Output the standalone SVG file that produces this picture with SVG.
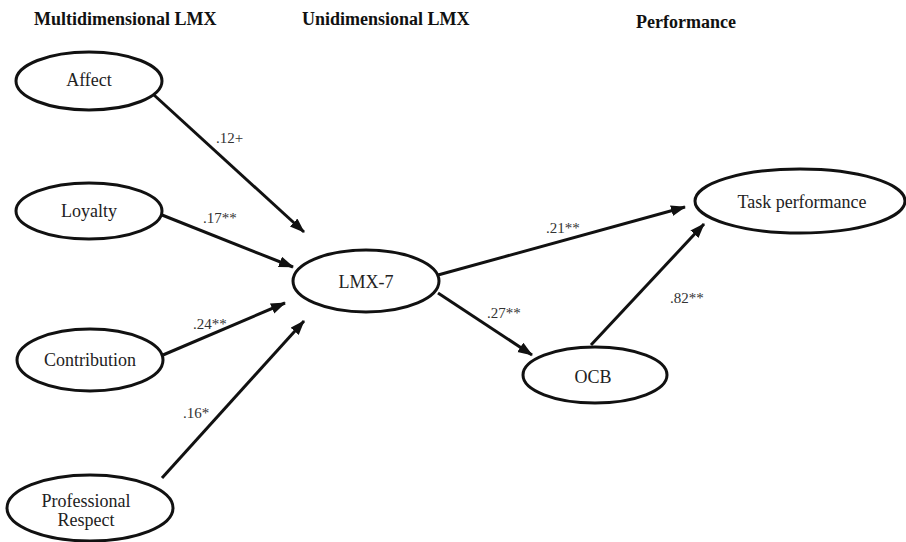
<svg xmlns="http://www.w3.org/2000/svg" width="906" height="542" viewBox="0 0 906 542">
<style>
.hdr{font-family:'Liberation Serif','DejaVu Serif',serif;font-weight:bold;font-size:18px;fill:#111}
.node ellipse{fill:#fff;stroke:#111;stroke-width:3}
.node text{font-family:'Liberation Serif','DejaVu Serif',serif;font-size:18px;fill:#222;text-anchor:middle}
.edge line{stroke:#111;stroke-width:3;marker-end:url(#arr)}
.lbl{font-family:'Liberation Serif','DejaVu Serif',serif;font-size:15px;fill:#333}
</style>
<defs>
<marker id="arr" markerUnits="userSpaceOnUse" markerWidth="16" markerHeight="12" refX="14" refY="5.5" orient="auto">
<path d="M0,0 L15,5.5 L0,11 z" fill="#111"/>
</marker>
</defs>
<rect width="906" height="542" fill="#fff"/>
<g id="headers">
<text class="hdr" x="34" y="25">Multidimensional LMX</text>
<text class="hdr" x="302" y="25">Unidimensional LMX</text>
<text class="hdr" x="636" y="28">Performance</text>
</g>
<g id="connectors" class="edge">
<line x1="154" y1="95" x2="304" y2="232"/>
<line x1="162" y1="215" x2="293" y2="267"/>
<line x1="163" y1="355" x2="285" y2="303"/>
<line x1="162" y1="478" x2="304" y2="321"/>
<line x1="438" y1="275" x2="685" y2="207"/>
<line x1="438" y1="293" x2="532" y2="355"/>
<line x1="591" y1="345" x2="704" y2="224"/>
</g>
<g id="labels">
<text class="lbl" x="216" y="143">.12+</text>
<text class="lbl" x="203" y="223">.17**</text>
<text class="lbl" x="193" y="329">.24**</text>
<text class="lbl" x="183" y="418">.16*</text>
<text class="lbl" x="546" y="233">.21**</text>
<text class="lbl" x="487" y="318">.27**</text>
<text class="lbl" x="670" y="303">.82**</text>
</g>
<g id="affect" class="node"><ellipse cx="89" cy="81" rx="73" ry="29"/><text x="89" y="86">Affect</text></g>
<g id="loyalty" class="node"><ellipse cx="89" cy="211" rx="73" ry="28"/><text x="89" y="217">Loyalty</text></g>
<g id="contribution" class="node"><ellipse cx="90" cy="360" rx="73" ry="31"/><text x="90" y="366">Contribution</text></g>
<g id="professional-respect" class="node"><ellipse cx="90" cy="508" rx="83" ry="33"/><text x="86" y="507">Professional</text><text x="86" y="526">Respect</text></g>
<g id="lmx7" class="node"><ellipse cx="366" cy="281" rx="73" ry="31"/><text x="366" y="288">LMX-7</text></g>
<g id="ocb" class="node"><ellipse cx="595" cy="375" rx="72" ry="28"/><text x="593" y="383">OCB</text></g>
<g id="task-performance" class="node"><ellipse cx="800" cy="201" rx="105" ry="32"/><text x="802" y="208">Task performance</text></g>
</svg>
